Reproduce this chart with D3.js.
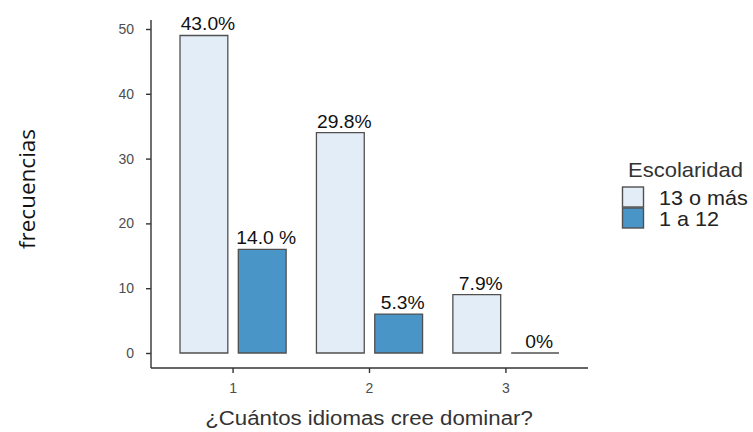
<!DOCTYPE html>
<html lang="es">
<head>
  <meta charset="UTF-8">
  <title>Idiomas</title>
  <script src="https://d3js.org/d3.v7.min.js"></script>
  <style>
    body { margin: 0; background: white; font-family: "Liberation Sans", Arial, Helvetica, sans-serif; }
    .axis path, .axis line { stroke: #333; stroke-width: 1.4px; }
    .axis text { fill: #4d4d4d; font-size: 14px; font-family: "Liberation Sans", Arial, sans-serif; }
    .bar { stroke: #505050; stroke-width: 1.3px; }
    .lbl { fill: #111; font-size: 17.5px; text-anchor: middle; }
  </style>
</head>
<body>
<svg id="svg" width="753" height="432"></svg>
<script>
// data
const categories = ["1", "2", "3"];
const groups = ["13 o más", "1 a 12"];
const values13 = [49, 34, 9];
const values112 = [16, 6, 0];
const labels13 = ["43.0%", "29.8%", "7.9%"];
const labels112 = ["14.0 %", "5.3%", "0%"];
const yTicks = [0, 10, 20, 30, 40, 50];
const colours = ["#e3edf7", "#4a95c7"];

const svg = d3.select("#svg");
const sx = 1.1; // text in the picture is a bit wider than its height suggests

const x = d3.scaleBand().domain(categories).range([180, 559]).paddingInner(0.222).paddingOuter(0);
const sub = d3.scaleBand().domain(groups).range([0, x.bandwidth()]).paddingInner(0.18);
const y = d3.scaleLinear().domain([0, 50]).range([353, 29]);

// y axis
const yAxis = svg.append("g").attr("class", "axis")
  .attr("transform", "translate(151,0)")
  .call(d3.axisLeft(y).tickValues(yTicks).tickSize(5).tickPadding(12).tickSizeOuter(0));
yAxis.select(".domain").attr("d", "M0,20V368");

// x axis
const xAxis = svg.append("g").attr("class", "axis")
  .attr("transform", "translate(0,368)")
  .call(d3.axisBottom(x).tickSize(5).tickPadding(10).tickSizeOuter(0));
xAxis.select(".domain").attr("d", "M151,0H588");

const rows = categories.map((c, i) => [
  { cat: c, grp: groups[0], v: values13[i], label: labels13[i], col: colours[0] },
  { cat: c, grp: groups[1], v: values112[i], label: labels112[i], col: colours[1] }
]).flat();

// bars as paths so a zero value still shows its baseline
svg.selectAll(".bar")
  .data(rows)
  .join("path")
  .attr("class", "bar")
  .attr("fill", d => d.col)
  .attr("d", d => {
    const x0 = x(d.cat) + sub(d.grp), w = sub.bandwidth();
    const y0 = y(0), y1 = y(d.v);
    return d.v === 0 ? `M${x0},${y0}H${x0 + w}` : `M${x0},${y0}V${y1}H${x0 + w}V${y0}Z`;
  });

svg.selectAll(".lbl")
  .data(rows)
  .join("text")
  .attr("class", "lbl")
  .attr("transform", d => `translate(${x(d.cat) + sub(d.grp) + sub.bandwidth() / 2 + 4},${y(d.v) - 5}) scale(${sx},1)`)
  .text(d => d.label);

// titles
svg.append("text")
  .attr("transform", `translate(369,425) scale(1.06,1)`)
  .attr("text-anchor", "middle")
  .attr("fill", "#333")
  .style("font-size", "21px")
  .text("¿Cuántos idiomas cree dominar?");

svg.append("text")
  .attr("transform", "translate(35,189) rotate(-90)")
  .attr("text-anchor", "middle")
  .attr("fill", "#111")
  .style("font-family", "'Open Sans', 'Noto Sans', sans-serif")
  .style("font-size", "22.5px")
  .text("frecuencias");

// legend
const legend = svg.append("g").attr("transform", "translate(622,0)");
legend.append("text")
  .attr("transform", `translate(6,177) scale(${sx},1)`)
  .attr("fill", "#333")
  .style("font-size", "20px")
  .text("Escolaridad");
const item = legend.selectAll(".key")
  .data(groups)
  .join("g")
  .attr("class", "key")
  .attr("transform", (d, i) => `translate(0,${187 + i * 21})`);
item.append("rect")
  .attr("x", 0.5).attr("y", 0).attr("width", 21).attr("height", 20)
  .attr("fill", (d, i) => colours[i])
  .attr("stroke", "#505050").attr("stroke-width", 1.4);
item.append("text")
  .attr("transform", `translate(37,18) scale(1.08,1)`)
  .attr("fill", "#222")
  .style("font-size", "20px")
  .text(d => d);
</script>
</body>
</html>
